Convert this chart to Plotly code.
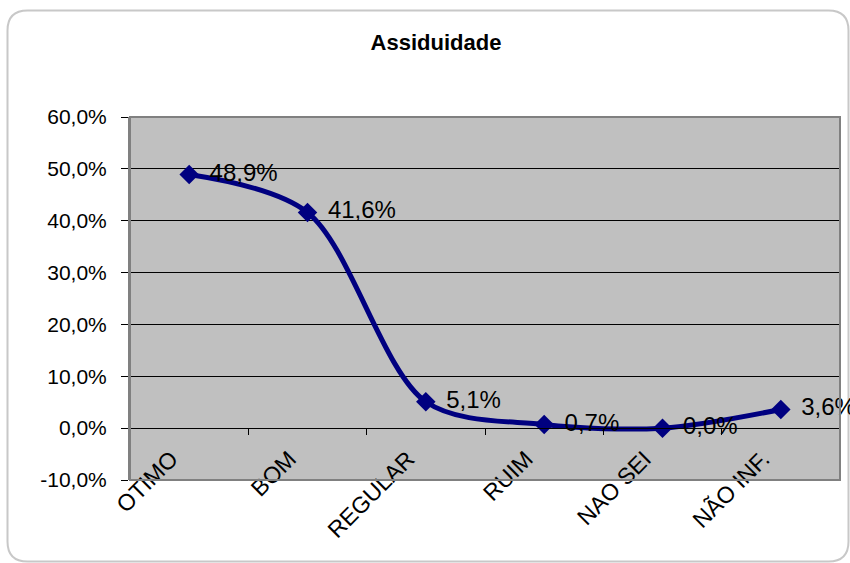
import plotly.graph_objects as go

categories = ["OTIMO", "BOM", "REGULAR", "RUIM", "NAO SEI", "NÃO INF."]
values = [0.489, 0.416, 0.051, 0.007, 0.000, 0.036]
title_text = "Assiduidade"
y_ticks = [-0.10, 0.0, 0.10, 0.20, 0.30, 0.40, 0.50, 0.60]
y_min, y_max = y_ticks[0], y_ticks[-1]

def pct(v):
    return f"{v*100:.1f}%".replace(".", ",")

labels = [pct(v) for v in values]
y_tick_text = [pct(v) for v in y_ticks]

W, H = 850, 563
L, T = 130, 117
pw, ph = 710, 363
R, B = W - L - pw, H - T - ph

def px2x(sx):
    return (sx - L) / pw

def px2y(sy):
    return (T + ph - sy) / ph

FONT = "Arial, 'Liberation Sans', sans-serif"

fig = go.Figure()

# helper trace for the zero-crossing category axis (ticks at boundaries)
fig.add_trace(go.Scatter(
    x=categories, y=values, xaxis="x2", mode="markers",
    marker=dict(opacity=0), hoverinfo="skip", showlegend=False,
))

fig.add_trace(go.Scatter(
    x=categories, y=values, mode="lines+markers",
    line=dict(color="#000080", width=5, shape="spline", smoothing=0.9),
    marker=dict(symbol="diamond", size=15, color="#000080"),
    cliponaxis=False, showlegend=False,
))

# data labels (offset a little further from the markers)
fig.add_trace(go.Scatter(
    x=categories, y=values, mode="markers+text",
    marker=dict(size=31, opacity=0),
    text=labels, textposition="middle right",
    textfont=dict(size=24, color="black", family=FONT),
    cliponaxis=False, showlegend=False, hoverinfo="skip",
))

# rounded chart border (pixel coordinates)
x0, x1, y0, y1, r = 7.5, 848.5, 10.5, 561.5, 20
path = (
    f"M {px2x(x0+r)},{px2y(y0)} L {px2x(x1-r)},{px2y(y0)} "
    f"Q {px2x(x1)},{px2y(y0)} {px2x(x1)},{px2y(y0+r)} "
    f"L {px2x(x1)},{px2y(y1-r)} Q {px2x(x1)},{px2y(y1)} {px2x(x1-r)},{px2y(y1)} "
    f"L {px2x(x0+r)},{px2y(y1)} Q {px2x(x0)},{px2y(y1)} {px2x(x0)},{px2y(y1-r)} "
    f"L {px2x(x0)},{px2y(y0+r)} Q {px2x(x0)},{px2y(y0)} {px2x(x0+r)},{px2y(y0)} Z"
)

fig.update_layout(
    width=W, height=H,
    margin=dict(l=L, r=R, t=T, b=B, autoexpand=False),
    paper_bgcolor="white", plot_bgcolor="#C0C0C0",
    font=dict(family=FONT, size=21, color="black"),
    title=dict(text=f"<b>{title_text}</b>", x=436 / W, y=1 - 42 / H,
               xanchor="center", yanchor="middle",
               font=dict(size=22, family=FONT, color="black")),
    xaxis=dict(
        type="category", categoryorder="array", categoryarray=categories,
        range=[-0.5, len(categories) - 0.5],
        showgrid=False, zeroline=False, ticks="", showline=False,
        tickangle=-45, tickfont=dict(size=23, family=FONT),
        ticklabelstandoff=-40, ticklabelshift=-18,
    ),
    xaxis2=dict(
        type="category", categoryorder="array", categoryarray=categories,
        range=[-0.5, len(categories) - 0.5],
        overlaying="x", anchor="free", position=(0 - y_min) / (y_max - y_min),
        side="bottom", showgrid=False, zeroline=False,
        showline=True, linecolor="black", linewidth=1,
        ticks="outside", tickson="boundaries", ticklen=6, tickcolor="black",
        tickwidth=1, showticklabels=False,
    ),
    yaxis=dict(
        range=[y_min, y_max], tickmode="array", tickvals=y_ticks, ticktext=y_tick_text,
        showgrid=True, gridcolor="black", gridwidth=1, zeroline=False,
        ticks="outside", ticklen=7, tickcolor="black", tickwidth=1,
        showline=True, linecolor="#808080", linewidth=2,
        tickfont=dict(size=21, family=FONT), ticklabelstandoff=10,
    ),
    shapes=[
        dict(type="rect", xref="paper", yref="paper", x0=0, x1=1, y0=0, y1=1,
             line=dict(color="#808080", width=2), layer="above"),
        dict(type="path", xref="paper", yref="paper", path=path,
             line=dict(color="#C8C8C8", width=2), layer="below"),
    ],
)

fig.write_html(
    "out.html",
    config={"displayModeBar": False},
    post_script="document.body.style.margin='0';document.body.style.overflow='hidden';",
)
